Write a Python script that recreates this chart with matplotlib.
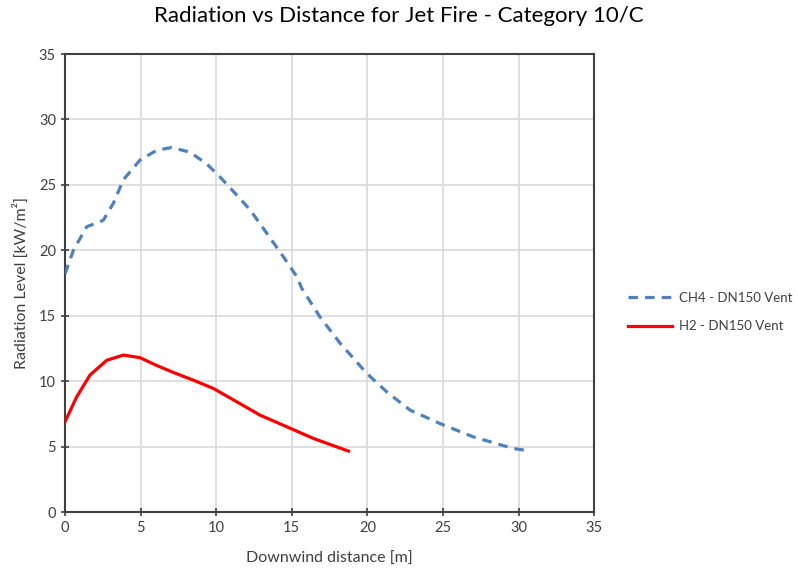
import matplotlib
matplotlib.use("Agg")
import matplotlib.pyplot as plt

plt.rcParams['font.family'] = ['Lato', 'DejaVu Sans']

ch4_x = [0.0, 0.55, 1.43, 2.53, 3.2, 3.86, 4.96, 6.07, 7.06, 8.27, 9.38, 10.26, 11.14,
         12.24, 13.35, 14.45, 15.33, 15.66, 16.87, 18.2, 19.96, 21.28, 22.83, 24.8,
         27.0, 29.66, 30.7]
ch4_y = [18.2, 20.0, 21.8, 22.3, 23.6, 25.4, 26.9, 27.65, 27.86, 27.5, 26.6, 25.6, 24.5,
         23.1, 21.3, 19.5, 18.0, 17.1, 14.9, 12.9, 10.6, 9.19, 7.79, 6.77,
         5.75, 4.86, 4.68]

h2_x = [0.0, 0.77, 1.65, 2.76, 3.86, 4.96, 6.07, 7.17, 8.49, 9.81, 11.36, 12.9, 14.67,
        16.43, 18.75]
h2_y = [6.9, 8.8, 10.47, 11.6, 12.0, 11.8, 11.2, 10.67, 10.08, 9.45, 8.43, 7.41, 6.52,
        5.63, 4.66]

x_ticks = [0, 5, 10, 15, 20, 25, 30, 35]
y_ticks = [0, 5, 10, 15, 20, 25, 30, 35]

fig = plt.figure(figsize=(7.98, 5.69), dpi=100)
ax = fig.add_axes([0.0815, 0.1, 0.663, 0.805])

ax.plot(ch4_x, ch4_y, color='#4F81BD', lw=2.3, ls=(0, (3, 2.2)),
        label='CH4 - DN150 Vent', zorder=3)
ax.plot(h2_x, h2_y, color='#FF0000', lw=2.3, label='H2 - DN150 Vent', zorder=3)

ax.set_xlim(0, 35)
ax.set_ylim(0, 35)
ax.set_xticks(x_ticks)
ax.set_yticks(y_ticks)
ax.grid(True, color='#D9D9D9', lw=1.2)
ax.set_axisbelow(True)
for s in ax.spines.values():
    s.set_color('#404040')
    s.set_linewidth(1.5)
ax.tick_params(direction='inout', length=6, width=1.2, color='#404040',
               labelsize=10.5, labelcolor='#404040')

ax.set_xlabel('Downwind distance [m]', fontsize=11.5, color='#404040', labelpad=12)
ax.set_ylabel('Radiation Level [kW/m²]', fontsize=11.5, color='#404040', labelpad=7)
fig.suptitle('Radiation vs Distance for Jet Fire - Category 10/C', fontsize=16,
             color='#000000', y=0.99)

leg = ax.legend(loc='center left', bbox_to_anchor=(1.064, 0.437), frameon=False,
                fontsize=9.5, handlelength=3.3, handletextpad=0.6, borderpad=0,
                borderaxespad=0, labelspacing=1.27, labelcolor='#404040')

fig.savefig('out.png', dpi=100)
